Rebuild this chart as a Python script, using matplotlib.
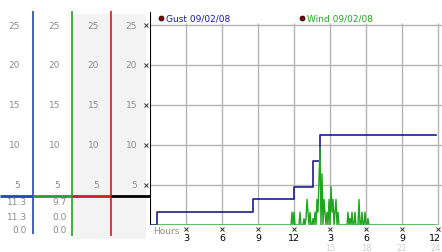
import matplotlib
matplotlib.use("Agg")
import matplotlib.pyplot as plt
import numpy as np

# y scale ticks (mph) and stats shown in the left panel
y_ticks = [5, 10, 15, 20, 25]
gust_stats = ["11.3", "11.3", "0.0"]
wind_stats = ["9.7", "0.0", "0.0"]

# x axis: hours of the day
hour_ticks = [3, 6, 9, 12, 15, 18, 21, 24]
hour_labels = ["3", "6", "9", "12", "3", "6", "9", "12"]
hour_labels_24 = ["", "", "", "", "15", "18", "21", "24"]

# gust (step changes)
gust_t = [0, 0.58, 8.56, 12.0, 13.6, 14.17, 23.8]
gust_v = [0, 1.6, 3.2, 4.8, 8.0, 11.3, 11.3]

# wind, 5 minute samples starting 11:45
wind_start = 11.75
wind_vals = [0, 1.6, 0, 1.6, 0, 0, 0, 0, 0, 1.6,
             0, 0, 0, 0.8, 0, 0.8, 3.2, 1.6, 0, 1.6,
             0, 0, 0.8, 0, 1.6, 0, 3.2, 1.6, 5.7, 9.7,
             0, 6.4, 0, 3.2, 1.6, 0, 1.6, 0, 3.2, 0,
             4.8, 1.6, 3.2, 0, 1.6, 3.2, 0, 1.6, 0, 0,
             0, 0, 0, 0, 0, 0, 0, 1.6, 0, 0.8,
             0, 1.6, 0, 0, 1.6, 0, 0, 0, 3.2, 0,
             0, 1.6, 0, 0, 1.6, 0, 0, 0.8, 0]
wind_t = [0.58] + list(wind_start + np.arange(len(wind_vals)) / 12.0) + [23.9]
wind_v = [0] + wind_vals + [0]

navy = "#1c1c8c"
blue = "#2244bb"
green = "#22a322"
red = "#c42222"
grey_txt = "#8c8c8c"

W, H = 442, 253
fig = plt.figure(figsize=(W / 100, H / 100), dpi=100)

# ---- left panel (scale columns)
y0 = 27  # px from bottom where value 0 sits
ppu = 8  # px per unit
axl = fig.add_axes([0, 0, 150 / W, 1])
axl.set_xlim(0, 150)
axl.set_ylim(-y0 / ppu, (H - y0) / ppu)
axl.axis("off")

top_v = (H - y0 - 12) / ppu
axl.fill_between([72, 146], -14 / ppu, top_v - 3 / ppu, color="#f3f3f3", lw=0)
axl.vlines(33, -9 / ppu, top_v, color=blue, lw=1.2)
axl.vlines(72, -11 / ppu, top_v, color=green, lw=1.2)
axl.vlines(111, -11 / ppu, top_v, color=red, lw=1.2)
sep = 3.6
axl.hlines(sep, 0, 33, color=blue, lw=2)
axl.hlines(sep, 33, 72, color=green, lw=2)
axl.hlines(sep, 72, 111, color=red, lw=2)
axl.hlines(sep, 111, 150, color="black", lw=2)

for xr in [20, 60, 99, 137]:
    for v in y_ticks:
        axl.text(xr, v, str(v), ha="right", va="center", fontsize=6.5, color=grey_txt)
axl.plot([145.5] * len(y_ticks), y_ticks, ls="none", marker="x", ms=2.2, mew=0.7, color="#333333")

stat_y = [2.875, 1.0, -0.625]
for s, v in zip(gust_stats, stat_y):
    axl.text(27, v, s, ha="right", va="center", fontsize=6.5, color=grey_txt)
for s, v in zip(wind_stats, stat_y):
    axl.text(67, v, s, ha="right", va="center", fontsize=6.5, color=grey_txt)

# ---- main chart
ax = fig.add_axes([150 / W, y0 / H, 291.6 / W, 212.8 / H])
ax.set_xlim(0, 24.3)
ax.set_ylim(0, 26.6)
for s in ax.spines.values():
    s.set_visible(False)
ax.set_xticks([])
ax.set_yticks([])
ax.patch.set_alpha(0)
ax.hlines(y_ticks, 0, 24.3, color="#b4b4b4", lw=1)
ax.vlines(hour_ticks, 0, 25.25, color="#b4b4b4", lw=1)
ax.axvline(0, color="black", lw=1.5)

ax.plot(gust_t, gust_v, drawstyle="steps-post", color=navy, lw=1.2)
ax.plot(wind_t, wind_v, color=green, lw=1)

ax.plot(0.9, 25.85, "o", ms=3.6, color="#8b0000", mec="black", mew=0.5)
ax.text(1.3, 25.85, "Gust 09/02/08", color=navy, fontsize=6.5, va="center")
ax.plot(12.65, 25.85, "o", ms=3.6, color="#8b0000", mec="black", mew=0.5)
ax.text(13.05, 25.85, "Wind 09/02/08", color=green, fontsize=6.5, va="center")

# x axis labels below the plot
ax.text(0.25, -0.75, "Hours", color=grey_txt, fontsize=6.5, va="center", clip_on=False)
ax.plot(hour_ticks, [-0.55] * len(hour_ticks), ls="none", marker="x", ms=2.2, mew=0.7,
        color="#333333", clip_on=False)
for t, lab, lab24 in zip(hour_ticks, hour_labels, hour_labels_24):
    tx, ha = (24.27, "right") if t == hour_ticks[-1] else (t, "center")
    ax.text(tx, -1.6, lab, ha=ha, va="center", fontsize=6.8, color="black")
    ax.text(tx, -2.85, lab24, ha=ha, va="center", fontsize=6, color="#cfcfcf")

fig.savefig("out.png", dpi=100)
